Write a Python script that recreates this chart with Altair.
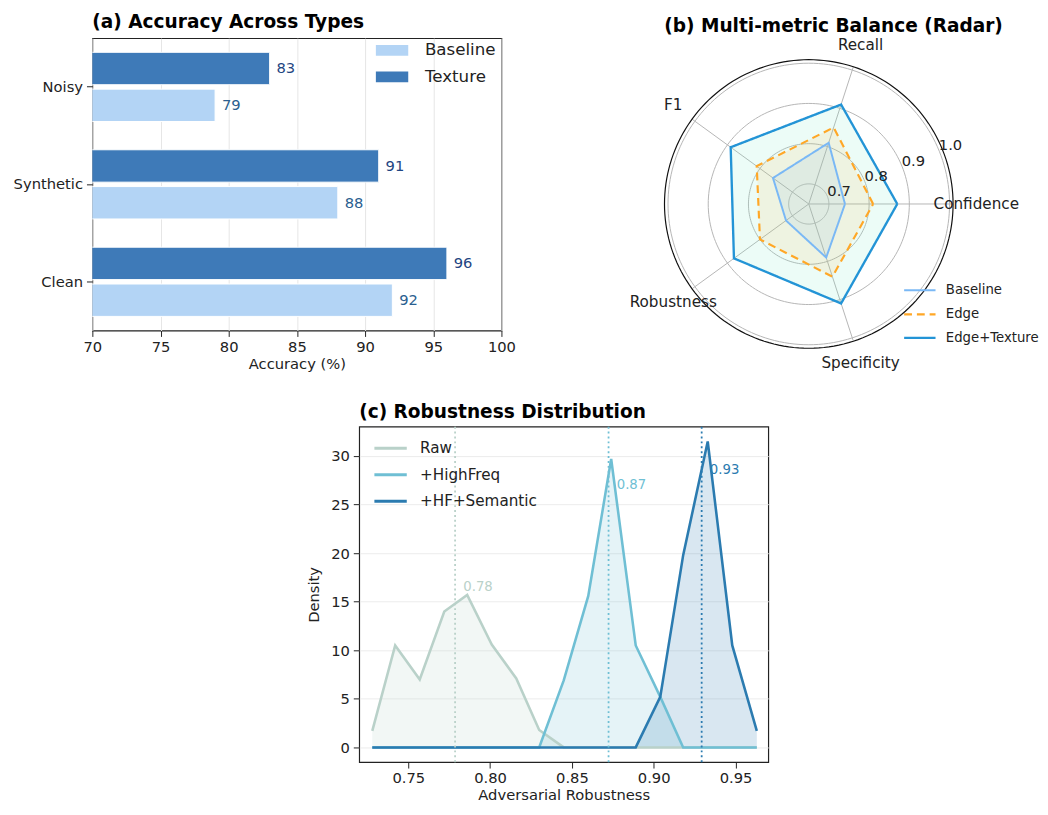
import altair as alt
import pandas as pd

# ---------------- (a) accuracy bars ----------------
categories = ["Noisy", "Synthetic", "Clean"]
baseline_acc = [79, 88, 92]
texture_acc = [83, 91, 96]
bar_series = ["Baseline", "Texture"]
bar_colors = ["#b3d4f5", "#3e7ab8"]
bar_label_colors = ["#2b5f90", "#1f4682"]
acc_ticks = [70, 75, 80, 85, 90, 95, 100]

# ---------------- (b) radar ----------------
radar_metrics = ["Confidence", "Recall", "F1", "Robustness", "Specificity"]
radar_baseline = [0.74, 0.81, 0.76, 0.72, 0.79]
radar_edge = [0.81, 0.85, 0.81, 0.80, 0.84]
radar_edge_texture = [0.87, 0.91, 0.89, 0.88, 0.91]
radar_series = ["Baseline", "Edge", "Edge+Texture"]
radar_colors = ["#7ab8f5", "#ffa726", "#2394d6"]
radar_fill_colors = ["#74b4f0", "#ffa726", "#80ebca"]
radar_fill_opacity = [0.12, 0.10, 0.15]
radar_ticks = [0.7, 0.8, 0.9, 1.0]

# ---------------- (c) robustness distribution ----------------
rob_x = [0.728, 0.742, 0.757, 0.772, 0.786, 0.801, 0.816, 0.830, 0.845,
         0.860, 0.874, 0.889, 0.904, 0.918, 0.933, 0.948, 0.963]
raw_density = [1.7, 10.5, 7.0, 14.0, 15.7, 10.6, 7.1, 1.8, 0.0,
               0, 0, 0, 0, 0, 0, 0, 0]
hf_density = [0, 0, 0, 0, 0, 0, 0, 0, 6.9,
              15.6, 29.7, 10.5, 5.2, 0, 0, 0, 0]
hfs_density = [0, 0, 0, 0, 0, 0, 0, 0, 0,
               0, 0, 0, 5.2, 19.8, 31.5, 10.5, 1.7]
dist_series = ["Raw", "+HighFreq", "+HF+Semantic"]
dist_colors = ["#b9d1c9", "#6fbfd4", "#2b7bb0"]
dist_means = [0.7786, 0.8724, 0.9293]
mean_labels = ["0.78", "0.87", "0.93"]
mean_label_y = [16.1, 26.6, 28.2]
rob_ticks = [0.75, 0.80, 0.85, 0.90, 0.95]
dens_ticks = [0, 5, 10, 15, 20, 25, 30]

FONT = "DejaVu Sans"
TXT = "#222222"
TITLE_SIZE = 18.9

# ======================= chart (a) =======================
bar_df = pd.DataFrame({
    "category": categories + categories,
    "bseries": [bar_series[0]] * len(categories) + [bar_series[1]] * len(categories),
    "acc": baseline_acc + texture_acc,
})
xa_scale = alt.Scale(domain=[70, 100], nice=False, zero=False)
ya_scale = alt.Scale(domain=categories, paddingInner=0.29, paddingOuter=0.145)
yo_scale = alt.Scale(domain=["Texture", "Baseline"], paddingInner=0.12, paddingOuter=0)

bars = alt.Chart(bar_df).mark_bar(clip=True, stroke="white", strokeWidth=1).encode(
    x=alt.X("acc:Q", scale=xa_scale,
            axis=alt.Axis(values=acc_ticks, title="Accuracy (%)", grid=True, gridColor="#e6e6e6",
                          domain=False, tickSize=6, labelPadding=3, titlePadding=3, labelFlush=False)),
    x2=alt.X2(datum=0),
    y=alt.Y("category:N", scale=ya_scale,
            axis=alt.Axis(title=None, tickSize=6, labelPadding=4, domain=False, grid=False)),
    yOffset=alt.YOffset("bseries:N", scale=yo_scale),
    color=alt.Color("bseries:N", scale=alt.Scale(domain=bar_series, range=bar_colors),
                    legend=alt.Legend(title=None, orient="none", legendX=289, legendY=-4,
                                      symbolType="M-1,-0.33H1V0.33H-1Z", symbolSize=1089,
                                      labelFontSize=17, rowPadding=2, labelOffset=17,
                                      symbolStrokeWidth=0, padding=0, labelColor=TXT)),
)
bar_labels = []
for s, c in zip(bar_series, bar_label_colors):
    bar_labels.append(
        alt.Chart(bar_df).transform_filter(alt.datum.bseries == s)
        .transform_calculate(lx="datum.acc + 0.5")
        .mark_text(align="left", baseline="middle", fontSize=15, color=c)
        .encode(x=alt.X("lx:Q", scale=xa_scale), y=alt.Y("category:N", scale=ya_scale),
                yOffset=alt.YOffset("bseries:N", scale=yo_scale), text="acc:Q")
    )
chart_a = alt.layer(bars, *bar_labels).properties(
    width=417, height=298,
    title=alt.TitleParams("(a) Accuracy Across Types", anchor="start", frame="group",
                          fontSize=TITLE_SIZE, fontWeight="bold", font=FONT, color="#000", offset=2),
    view=alt.ViewBackground(stroke=TXT, strokeWidth=1.2),
)

# ======================= chart (b) =======================
R0, RSPAN = 0.65, 0.35
S = 143.5
CXP, CYP = 169.3, 169.0
BW, BH = 380, 345
bxs = alt.Scale(domain=[-CXP / S, (BW - CXP) / S], nice=False, zero=False)
bys = alt.Scale(domain=[-(BH - CYP) / S, CYP / S], nice=False, zero=False)


def BX(f):
    return alt.X(f, type="quantitative", scale=bxs, axis=None)


def BY(f):
    return alt.Y(f, type="quantitative", scale=bys, axis=None)


n_m = len(radar_metrics)
rows = []
for s, vals in zip(radar_series, [radar_baseline, radar_edge, radar_edge_texture]):
    for k in range(n_m + 1):
        i = k % n_m
        rows.append({"rseries": s, "metric": radar_metrics[i], "idx": i, "ord": k, "value": vals[i]})
radar_df = pd.DataFrame(rows)
metric_df = pd.DataFrame({"metric": radar_metrics, "idx": list(range(n_m))})
tick_df = pd.DataFrame({"t": radar_ticks})

polar_calc = dict(
    th=f"datum.idx*2*PI/{n_m}",
    rn=f"(datum.value-{R0})/{RSPAN}",
    px="datum.rn*cos(datum.th)",
    py="datum.rn*sin(datum.th)",
)

ring_layers = []
for t in radar_ticks:
    rn = (t - R0) / RSPAN
    ring_layers.append(
        alt.Chart(alt.sequence(0, 362, 2, as_="deg"))
        .transform_calculate(px=f"{rn}*cos(datum.deg*PI/180)", py=f"{rn}*sin(datum.deg*PI/180)")
        .mark_line(color="#b5b5b5", strokeWidth=1)
        .encode(x=BX("px"), y=BY("py"), order="deg:Q")
    )
spine = (
    alt.Chart(alt.sequence(0, 362, 2, as_="deg"))
    .transform_calculate(px="1.025*cos(datum.deg*PI/180)", py="1.025*sin(datum.deg*PI/180)")
    .mark_line(color="#111111", strokeWidth=1.2)
    .encode(x=BX("px"), y=BY("py"), order="deg:Q")
)
spokes = (
    alt.Chart(metric_df)
    .transform_calculate(th=f"datum.idx*2*PI/{n_m}", x0="0", y0="0",
                         x1="1.025*cos(datum.th)", y1="1.025*sin(datum.th)")
    .mark_rule(color="#b5b5b5", strokeWidth=1)
    .encode(x=BX("x0"), y=BY("y0"), x2="x1:Q", y2="y1:Q")
)
metric_labels = (
    alt.Chart(metric_df)
    .transform_calculate(th=f"datum.idx*2*PI/{n_m}", px="1.19*cos(datum.th)", py="1.19*sin(datum.th)")
    .mark_text(fontSize=15.5, align="center", baseline="middle", color=TXT)
    .encode(x=BX("px"), y=BY("py"), text="metric:N")
)
tick_labels = (
    alt.Chart(tick_df)
    .transform_calculate(rn=f"(datum.t-{R0})/{RSPAN}", px="datum.rn*cos(PI/8)",
                         py="datum.rn*sin(PI/8)", lab="format(datum.t, '.1f')")
    .mark_text(fontSize=15, align="left", baseline="alphabetic", color=TXT)
    .encode(x=BX("px"), y=BY("py"), text="lab:N")
)
fills = []
for s, fc, fo in reversed(list(zip(radar_series, radar_fill_colors, radar_fill_opacity))):
    fills.append(
        alt.Chart(radar_df).transform_filter(alt.datum.rseries == s)
        .transform_calculate(**polar_calc)
        .mark_line(fill=fc, fillOpacity=fo, strokeOpacity=0)
        .encode(x=BX("px"), y=BY("py"), order="ord:Q")
    )
radar_leg = alt.Legend(title=None, orient="none", legendX=265, legendY=240, symbolType="stroke",
                       symbolSize=1024, labelFontSize=13.5, rowPadding=-12, labelOffset=9,
                       padding=0, labelColor=TXT)
radar_lines = (
    alt.Chart(radar_df).transform_calculate(**polar_calc).mark_line()
    .encode(
        x=BX("px"), y=BY("py"), order="ord:Q",
        color=alt.Color("rseries:N", scale=alt.Scale(domain=radar_series, range=radar_colors), legend=radar_leg),
        strokeDash=alt.StrokeDash("rseries:N", scale=alt.Scale(domain=radar_series, range=[[1, 0], [8, 5], [1, 0]]),
                                  legend=radar_leg),
        strokeWidth=alt.StrokeWidth("rseries:N", scale=alt.Scale(domain=radar_series, range=[2, 2.4, 3.5]),
                                    legend=radar_leg),
    )
)
chart_b = alt.layer(*ring_layers, spokes, spine, *fills, radar_lines, metric_labels, tick_labels).properties(
    width=BW, height=BH,
    title=alt.TitleParams("(b) Multi-metric Balance (Radar)", anchor="start", frame="group", dx=22,
                          fontSize=TITLE_SIZE, fontWeight="bold", font=FONT, color="#000", offset=2),
)

# ======================= chart (c) =======================
dist_df = pd.DataFrame({
    "rob": rob_x * 3,
    "density": raw_density + hf_density + hfs_density,
    "dseries": [s for s in dist_series for _ in rob_x],
})
mean_df = pd.DataFrame({"dseries": dist_series, "mean": dist_means, "label": mean_labels, "ly": mean_label_y})
cxs = alt.Scale(domain=[0.72, 0.97], nice=False, zero=False)
cys = alt.Scale(domain=[-1.52, 33.03], nice=False, zero=False)
cx = alt.X("rob:Q", scale=cxs,
           axis=alt.Axis(values=rob_ticks, format=".2f", title="Adversarial Robustness", grid=False,
                         domain=False, tickSize=6, labelPadding=3, titlePadding=2, labelFlush=False))
cy = alt.Y("density:Q", scale=cys,
           axis=alt.Axis(values=dens_ticks, title="Density", grid=True, gridColor="#ececec",
                         domain=False, tickSize=6, labelPadding=4, titlePadding=9))
color_c = alt.Scale(domain=dist_series, range=dist_colors)

areas = []
for s, c in zip(dist_series, dist_colors):
    areas.append(
        alt.Chart(dist_df).transform_filter(alt.datum.dseries == s)
        .mark_area(color=c, opacity=0.18)
        .encode(x=cx, y=cy, y2=alt.Y2(datum=0))
    )
dist_lines = alt.Chart(dist_df).mark_line(strokeWidth=2.6).encode(
    x=cx, y=cy,
    color=alt.Color("dseries:N", scale=color_c,
                    legend=alt.Legend(title=None, orient="none", legendX=14, legendY=4, symbolType="stroke",
                                      symbolSize=1089, symbolStrokeWidth=3, labelFontSize=15.5, rowPadding=-10,
                                      labelOffset=12, padding=0, labelColor=TXT)),
)
mean_rules = alt.Chart(mean_df).mark_rule(strokeDash=[2, 3], strokeWidth=1.8).encode(
    x=alt.X("mean:Q", scale=cxs),
    color=alt.Color("dseries:N", scale=color_c, legend=None),
)
mean_text = (
    alt.Chart(mean_df).transform_calculate(lx="datum.mean + 0.005")
    .mark_text(align="left", baseline="alphabetic", fontSize=13.5)
    .encode(x=alt.X("lx:Q", scale=cxs), y=alt.Y("ly:Q", scale=cys), text="label:N",
            color=alt.Color("dseries:N", scale=color_c, legend=None))
)
chart_c = alt.layer(*areas, dist_lines, mean_rules, mean_text).properties(
    width=417, height=342,
    title=alt.TitleParams("(c) Robustness Distribution", anchor="start", frame="group",
                          fontSize=TITLE_SIZE, fontWeight="bold", font=FONT, color="#000", offset=4),
    view=alt.ViewBackground(stroke=TXT, strokeWidth=1.2),
)

spacer = alt.Chart(pd.DataFrame({"v": [0]})).mark_text(text="").encode(
    x=alt.value(0), y=alt.value(0)).properties(width=207, height=10)

IND = dict(color="independent", strokeDash="independent", strokeWidth="independent")
top = alt.hconcat(chart_a, chart_b, spacing=115).resolve_scale(**IND).resolve_legend(**IND)
bottom = alt.hconcat(spacer, chart_c, spacing=10).resolve_scale(**IND).resolve_legend(**IND)
chart = (
    alt.vconcat(top, bottom, spacing=25)
    .resolve_scale(**IND).resolve_legend(**IND)
    .properties(padding={"left": 4, "top": -3, "right": 0, "bottom": 0})
    .configure(font=FONT)
    .configure_view(stroke="transparent")
    .configure_axis(labelFontSize=15, titleFontSize=15, labelColor=TXT, titleColor=TXT,
                    titleFontWeight="normal", tickColor=TXT, labelFont=FONT, titleFont=FONT)
)
chart.save("out.html", embed_options={"renderer": "svg", "actions": False})
